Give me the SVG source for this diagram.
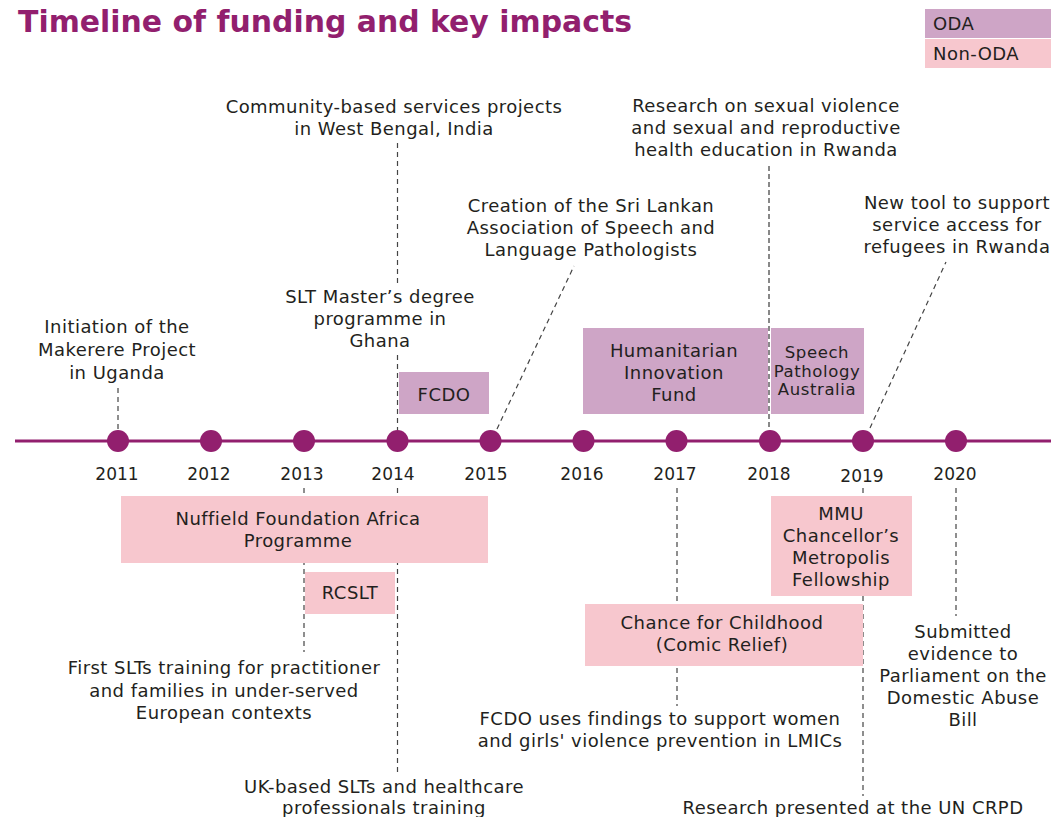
<svg xmlns="http://www.w3.org/2000/svg" width="1051" height="817" viewBox="0 0 1051 817">
<style>
text{font-family:"DejaVu Sans","Liberation Sans",sans-serif;fill:#231f20;font-size:18px;letter-spacing:0.45px;text-anchor:middle}
.title{font-size:30px;font-weight:bold;fill:#921f6e;text-anchor:start;letter-spacing:0}
.yr{font-size:17px;letter-spacing:0}
.lg{text-anchor:start}
.sm{font-size:16.5px;letter-spacing:0.6px}
.oda{fill:#cea5c6}
.non{fill:#f7c7ce}
.dash{stroke:#444;stroke-width:1.2;stroke-dasharray:5 4;fill:none}
.dash2{stroke:#888;stroke-width:2;stroke-dasharray:5 3;fill:none}
.dot{fill:#921f6e}
</style>
<rect width="1051" height="817" fill="#fff"/>
<text class="title" x="18" y="32" textLength="614" lengthAdjust="spacingAndGlyphs">Timeline of funding and key impacts</text>
<g id="legend">
<rect class="oda" x="925" y="9" width="126" height="29"/>
<rect class="non" x="925" y="39" width="126" height="29"/>
<text class="lg" x="933" y="30">ODA</text>
<text class="lg" x="933" y="60">Non-ODA</text>
</g>
<g id="connectors">
<line class="dash" x1="118" y1="388" x2="118" y2="430"/>
<line class="dash" x1="397.5" y1="143" x2="397.5" y2="285"/>
<line class="dash" x1="397.5" y1="355" x2="397.5" y2="430"/>
<line class="dash" x1="497" y1="429" x2="574" y2="266"/>
<line class="dash2" x1="769" y1="166" x2="769" y2="430"/>
<line class="dash" x1="870" y1="428" x2="946" y2="262"/>
<line class="dash" x1="304" y1="488" x2="304" y2="652"/>
<line class="dash" x1="397.5" y1="488" x2="397.5" y2="776"/>
<line class="dash" x1="677" y1="488" x2="677" y2="706"/>
<line class="dash" x1="863" y1="488" x2="863" y2="796"/>
<line class="dash" x1="956" y1="488" x2="956" y2="616"/>
</g>
<g id="timeline">
<line x1="15" y1="441" x2="1051" y2="441" stroke="#921f6e" stroke-width="3"/>
<circle class="dot" cx="118" cy="441" r="11"/>
<circle class="dot" cx="211" cy="441" r="11"/>
<circle class="dot" cx="304" cy="441" r="11"/>
<circle class="dot" cx="397.5" cy="441" r="11"/>
<circle class="dot" cx="490.5" cy="441" r="11"/>
<circle class="dot" cx="583.5" cy="441" r="11"/>
<circle class="dot" cx="676.5" cy="441" r="11"/>
<circle class="dot" cx="770" cy="441" r="11"/>
<circle class="dot" cx="863" cy="441" r="11"/>
<circle class="dot" cx="956" cy="441" r="11"/>
<text class="yr" x="117" y="480">2011</text>
<text class="yr" x="209" y="480">2012</text>
<text class="yr" x="302" y="480">2013</text>
<text class="yr" x="393" y="480">2014</text>
<text class="yr" x="486" y="480">2015</text>
<text class="yr" x="582" y="480">2016</text>
<text class="yr" x="675" y="480">2017</text>
<text class="yr" x="769" y="480">2018</text>
<text class="yr" x="862" y="482">2019</text>
<text class="yr" x="955" y="480">2020</text>
</g>
<g id="fcdo"><rect class="oda" x="399" y="372" width="90" height="42"/><text x="444" y="401">FCDO</text></g>
<g id="hif"><rect class="oda" x="583" y="328" width="185" height="86"/>
<text x="674" y="357">Humanitarian</text><text x="674" y="379">Innovation</text><text x="674" y="401">Fund</text></g>
<g id="spa"><rect class="oda" x="771" y="328" width="93" height="86"/>
<text class="sm" x="817" y="358">Speech</text><text class="sm" x="817" y="377">Pathology</text><text class="sm" x="817" y="395">Australia</text></g>
<g id="nuffield"><rect class="non" x="121" y="496" width="367" height="67"/>
<text x="298" y="525">Nuffield Foundation Africa</text><text x="298" y="547">Programme</text></g>
<g id="rcslt"><rect class="non" x="305" y="572" width="90" height="42"/><text x="350" y="599">RCSLT</text></g>
<g id="chance"><rect class="non" x="585" y="604" width="278" height="62"/>
<text x="722" y="629">Chance for Childhood</text><text x="722" y="651">(Comic Relief)</text></g>
<g id="mmu"><rect class="non" x="771" y="496" width="141" height="100"/>
<text x="841" y="520">MMU</text><text x="841" y="542">Chancellor’s</text><text x="841" y="564">Metropolis</text><text x="841" y="586">Fellowship</text></g>
<g id="e-makerere"><text x="117" y="333">Initiation of the</text><text x="117" y="356">Makerere Project</text><text x="117" y="379">in Uganda</text></g>
<g id="e-ghana"><text x="380" y="303">SLT Master’s degree</text><text x="380" y="325">programme in</text><text x="380" y="347">Ghana</text></g>
<g id="e-bengal"><text x="394" y="113">Community-based services projects</text><text x="394" y="135">in West Bengal, India</text></g>
<g id="e-srilanka"><text x="591" y="212">Creation of the Sri Lankan</text><text x="591" y="234">Association of Speech and</text><text x="591" y="256">Language Pathologists</text></g>
<g id="e-rwanda"><text x="766" y="112">Research on sexual violence</text><text x="766" y="134">and sexual and reproductive</text><text x="766" y="156">health education in Rwanda</text></g>
<g id="e-tool"><text x="957" y="209">New tool to support</text><text x="957" y="231">service access for</text><text x="957" y="253">refugees in Rwanda</text></g>
<g id="e-first"><text x="224" y="674">First SLTs training for practitioner</text><text x="224" y="697">and families in under-served</text><text x="224" y="719">European contexts</text></g>
<g id="e-uk"><text x="384" y="793">UK-based SLTs and healthcare</text><text x="384" y="814">professionals training</text></g>
<g id="e-fcdouses"><text x="660" y="725">FCDO uses findings to support women</text><text x="660" y="747">and girls' violence prevention in LMICs</text></g>
<g id="e-parliament"><text x="963" y="638">Submitted</text><text x="963" y="660">evidence to</text><text x="963" y="682">Parliament on the</text><text x="963" y="704">Domestic Abuse</text><text x="963" y="726">Bill</text></g>
<g id="e-crpd"><text x="853" y="814">Research presented at the UN CRPD</text></g>
</svg>
